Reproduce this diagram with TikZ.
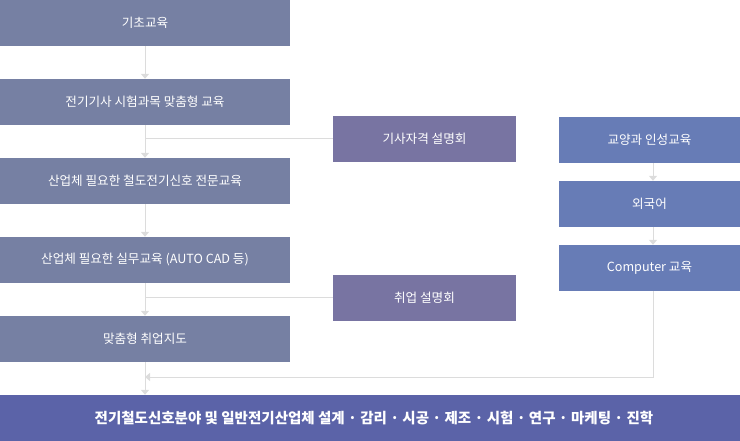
\documentclass[tikz,border=0pt]{standalone}
\usepackage{fontspec}
\setmainfont{Noto Sans CJK KR}
\usetikzlibrary{arrows.meta}
\definecolor{leftc}{HTML}{7680A3}
\definecolor{midc}{HTML}{7874A2}
\definecolor{rightc}{HTML}{677CB6}
\definecolor{barc}{HTML}{5B63A8}
\definecolor{linec}{HTML}{DCDCDC}
\begin{document}
\begin{tikzpicture}[x=1pt,y=-1pt,
  box/.style={rectangle,inner sep=0pt,minimum height=46pt,text=white,
    font=\fontsize{12.6}{14}\selectfont},
  lbox/.style={box,fill=leftc,minimum width=290pt},
  mbox/.style={box,fill=midc,minimum width=183pt},
  rbox/.style={box,fill=rightc,minimum width=181pt},
  bar/.style={rectangle,inner sep=0pt,minimum height=46pt,minimum width=740pt,
    fill=barc,text=white,font=\fontsize{14.5}{16}\selectfont\bfseries},
  conn/.style={draw=linec,line width=1pt},
  arr/.style={conn,-{Triangle[width=8pt,length=5pt]},linec}]
\useasboundingbox (0,0) rectangle (740,441);
\node[lbox] (b1) at (145,23) {기초교육};
\node[lbox] (b2) at (145,102) {전기기사 시험과목 맞춤형 교육};
\node[lbox] (b3) at (145,181) {산업체 필요한 철도전기신호 전문교육};
\node[lbox] (b4) at (145,260) {산업체 필요한 실무교육 (AUTO CAD 등)};
\node[lbox] (b5) at (145,339) {맞춤형 취업지도};
\node[bar] (bar) at (370,418) {\hspace*{8pt}전기철도신호분야 및 일반전기산업체 설계 · 감리 · 시공 · 제조 · 시험 · 연구 · 마케팅 · 진학};
\node[mbox] (m1) at (424.5,139) {기사자격 설명회};
\node[mbox] (m2) at (424.5,298) {취업 설명회};
\node[rbox] (r1) at (649.5,140) {교양과 인성교육};
\node[rbox] (r2) at (649.5,204) {외국어};
\node[rbox] (r3) at (649.5,268) {Computer 교육};
\coordinate (j) at (145,377);
\draw[arr] (b1) -- (b2);
\draw[arr] (b2) -- (b3);
\draw[arr] (b3) -- (b4);
\draw[arr] (b4) -- (b5);
\draw[arr] (b5) -- (bar.north -| b5.south);
\draw[conn] (m1.west) -- (m1.west -| b2.south);
\draw[conn] (m2.west) -- (m2.west -| b4.south);
\draw[arr] ([xshift=3.5pt]r1.south) -- ([xshift=3.5pt]r2.north);
\draw[arr] ([xshift=3.5pt]r2.south) -- ([xshift=3.5pt]r3.north);
\draw[arr] ([xshift=3.5pt]r3.south) |- (j);
\end{tikzpicture}
\end{document}
